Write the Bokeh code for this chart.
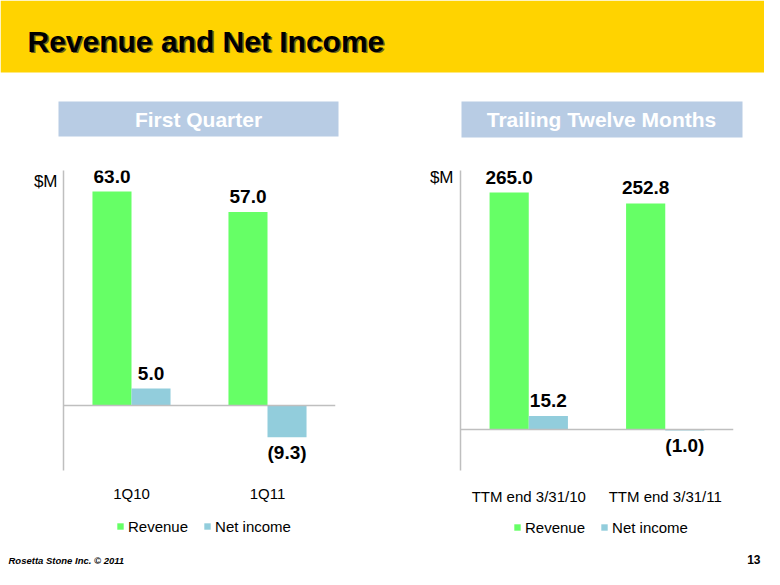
from bokeh.plotting import figure
from bokeh.layouts import column, row
from bokeh.models import (FactorRange, Range1d, ColumnDataSource, Legend, LegendItem,
                          FixedTicker, Span, Label)
from bokeh.transform import dodge
from bokeh.core.properties import value
from bokeh.embed import file_html
from bokeh.resources import INLINE

# ---------------- data ----------------
q_categories = ["1Q10", "1Q11"]
q_revenue = [63.0, 57.0]
q_net_income = [5.0, -9.3]

ttm_categories = ["TTM end 3/31/10", "TTM end 3/31/11"]
ttm_revenue = [265.0, 252.8]
ttm_net_income = [15.2, -1.0]

series_names = ["Revenue", "Net income"]
unit_label = "$M"

FONT = "Liberation Sans"
GREEN = "#66FF66"
BLUE = "#92CDDC"
AXIS_GRAY = "#BFBFBF"
BOX_BLUE = "#B8CCE4"
YELLOW = "#FFD300"

W_TOTAL = 764
LEFT_W = 390
RIGHT_W = W_TOTAL - LEFT_W
NAN = float("nan")


def fmt(v):
    return f"({abs(v):.1f})" if v < 0 else f"{v:.1f}"


def blank(p):
    p.xaxis.visible = False
    p.yaxis.visible = False
    p.xgrid.visible = False
    p.ygrid.visible = False
    p.outline_line_color = None
    p.min_border = 0
    p.background_fill_color = "white"
    p.border_fill_color = "white"


def make_chart(cats, rev, ni, w, left, top, frame_w, frame_h, bottom,
               ymin, ymax, unit_y, y_standoff, x_standoff):
    p = figure(x_range=FactorRange(*cats, range_padding=0),
               y_range=Range1d(ymin, ymax), output_backend="svg", toolbar_location=None,
               frame_width=frame_w, frame_height=frame_h)
    p.min_border_left = left
    p.min_border_right = w - left - frame_w
    p.min_border_top = top
    p.min_border_bottom = bottom
    p.xgrid.visible = False
    p.ygrid.visible = False
    p.outline_line_color = None
    p.background_fill_color = "white"
    p.border_fill_color = "white"

    src = ColumnDataSource(dict(cat=cats, rev=rev, ni=ni))
    bw = 0.287
    off = 0.1435
    p.vbar(x=dodge("cat", -off, range=p.x_range), top="rev", bottom=0, width=bw,
           source=src, fill_color=GREEN, line_color=None)
    p.vbar(x=dodge("cat", off, range=p.x_range), top="ni", bottom=0, width=bw,
           source=src, fill_color=BLUE, line_color=None)

    p.add_layout(Span(location=0, dimension="width", line_color=AXIS_GRAY, line_width=1.5))

    # data labels: revenue (positive) and net income (sign dependent)
    groups = {}
    for c, v in zip(cats, rev):
        groups.setdefault((-off, "bottom", -9), []).append((c, v))
    for c, v in zip(cats, ni):
        key = (off, "bottom", -9) if v >= 0 else (off, "top", 5)
        groups.setdefault(key, []).append((c, v))
    for (o_val, base, yoff), items in groups.items():
        ss = ColumnDataSource(dict(cat=[c for c, _ in items], val=[v for _, v in items],
                                   txt=[fmt(v) for _, v in items]))
        p.text(x=dodge("cat", o_val, range=p.x_range), y="val", text="txt", source=ss,
               text_font=value(FONT), text_font_style="bold", text_font_size="19px",
               text_align="center", text_baseline=base, y_offset=yoff, text_color="black")

    # y axis: only line and unit label
    p.yaxis.ticker = FixedTicker(ticks=[unit_y])
    p.yaxis.major_label_overrides = {unit_y: unit_label}
    p.yaxis.axis_line_color = AXIS_GRAY
    p.yaxis.axis_line_width = 1.5
    p.yaxis.major_tick_line_color = None
    p.yaxis.minor_tick_line_color = None
    p.yaxis.major_label_text_font = FONT
    p.yaxis.major_label_text_font_size = "17px"
    p.yaxis.major_label_text_color = "black"
    p.yaxis.major_label_standoff = y_standoff

    p.xaxis.axis_line_color = None
    p.xaxis.major_tick_line_color = None
    p.xaxis.minor_tick_line_color = None
    p.xaxis.major_label_text_font = FONT
    p.xaxis.major_label_text_font_size = "15px"
    p.xaxis.major_label_text_color = "black"
    p.xaxis.major_label_standoff = x_standoff
    return p


# ---------------- header: yellow band, title, panel boxes ----------------
hdr = figure(width=W_TOTAL, height=150, x_range=Range1d(0, W_TOTAL), y_range=Range1d(150, 0),
             output_backend="svg", toolbar_location=None)
blank(hdr)
hdr.quad(left=[0], right=[W_TOTAL], top=[0], bottom=[72], fill_color=YELLOW, line_color=None)
hdr.add_layout(Label(x=28.5, y=42, text="Revenue and Net Income", text_font=FONT,
                     text_font_style="bold", text_font_size="30px", text_color="#6E6020",
                     text_baseline="middle"))
hdr.add_layout(Label(x=27, y=40.5, text="Revenue and Net Income", text_font=FONT,
                     text_font_style="bold", text_font_size="30px", text_color="black",
                     text_baseline="middle"))
hdr.quad(left=[58, 461], right=[338, 742], top=[101, 101], bottom=[136, 137],
         fill_color=BOX_BLUE, line_color=None)
hdr.add_layout(Label(x=198, y=119, text="First Quarter", text_font=FONT, text_font_style="bold",
                     text_font_size="21px", text_color="white", text_align="center",
                     text_baseline="middle"))
hdr.add_layout(Label(x=601, y=119, text="Trailing Twelve Months", text_font=FONT,
                     text_font_style="bold", text_font_size="21px", text_color="white",
                     text_align="center", text_baseline="middle"))

# ---------------- charts ----------------
lchart = make_chart(q_categories, q_revenue, q_net_income, LEFT_W,
                    left=63, top=20, frame_w=272, frame_h=300, bottom=40,
                    ymin=-19.1, ymax=69.2, unit_y=66, y_standoff=0, x_standoff=8)
rchart = make_chart(ttm_categories, ttm_revenue, ttm_net_income, RIGHT_W,
                    left=70, top=20, frame_w=273, frame_h=300, bottom=40,
                    ymin=-45.85, ymax=289.6, unit_y=282, y_standoff=1, x_standoff=11)

# ---------------- footer: legends and page texts ----------------
ftr = figure(width=W_TOTAL, height=59, x_range=Range1d(0, W_TOTAL), y_range=Range1d(569, 510),
             output_backend="svg", toolbar_location=None)
blank(ftr)
# legend key renderers (no visible data of their own)
key_rev = ftr.vbar(x=[NAN], top=[NAN], width=1, fill_color=GREEN, line_color=None)
key_ni = ftr.vbar(x=[NAN], top=[NAN], width=1, fill_color=BLUE, line_color=None)
for loc in [(116, 34.5), (513, 33.5)]:
    legend = Legend(items=[LegendItem(label=series_names[0], renderers=[key_rev]),
                           LegendItem(label=series_names[1], renderers=[key_ni])],
                    orientation="horizontal", location=loc)
    legend.glyph_width = 8
    legend.glyph_height = 8
    legend.label_standoff = 4
    legend.spacing = 15
    legend.padding = 0
    legend.margin = 0
    legend.border_line_color = None
    legend.background_fill_alpha = 0
    legend.label_text_font = FONT
    legend.label_text_font_size = "15px"
    legend.label_text_color = "black"
    ftr.add_layout(legend, "center")

ftr.add_layout(Label(x=8, y=560, text="Rosetta Stone Inc. © 2011", text_font=FONT,
                     text_font_style="bold italic", text_font_size="9.5px", text_color="black",
                     text_baseline="middle"))
ftr.add_layout(Label(x=760, y=559, text="13", text_font=FONT, text_font_style="bold",
                     text_font_size="12px", text_color="black", text_align="right",
                     text_baseline="middle"))

layout = column(hdr, row(lchart, rchart), ftr)

open("out.html", "w").write(file_html(layout, INLINE))
